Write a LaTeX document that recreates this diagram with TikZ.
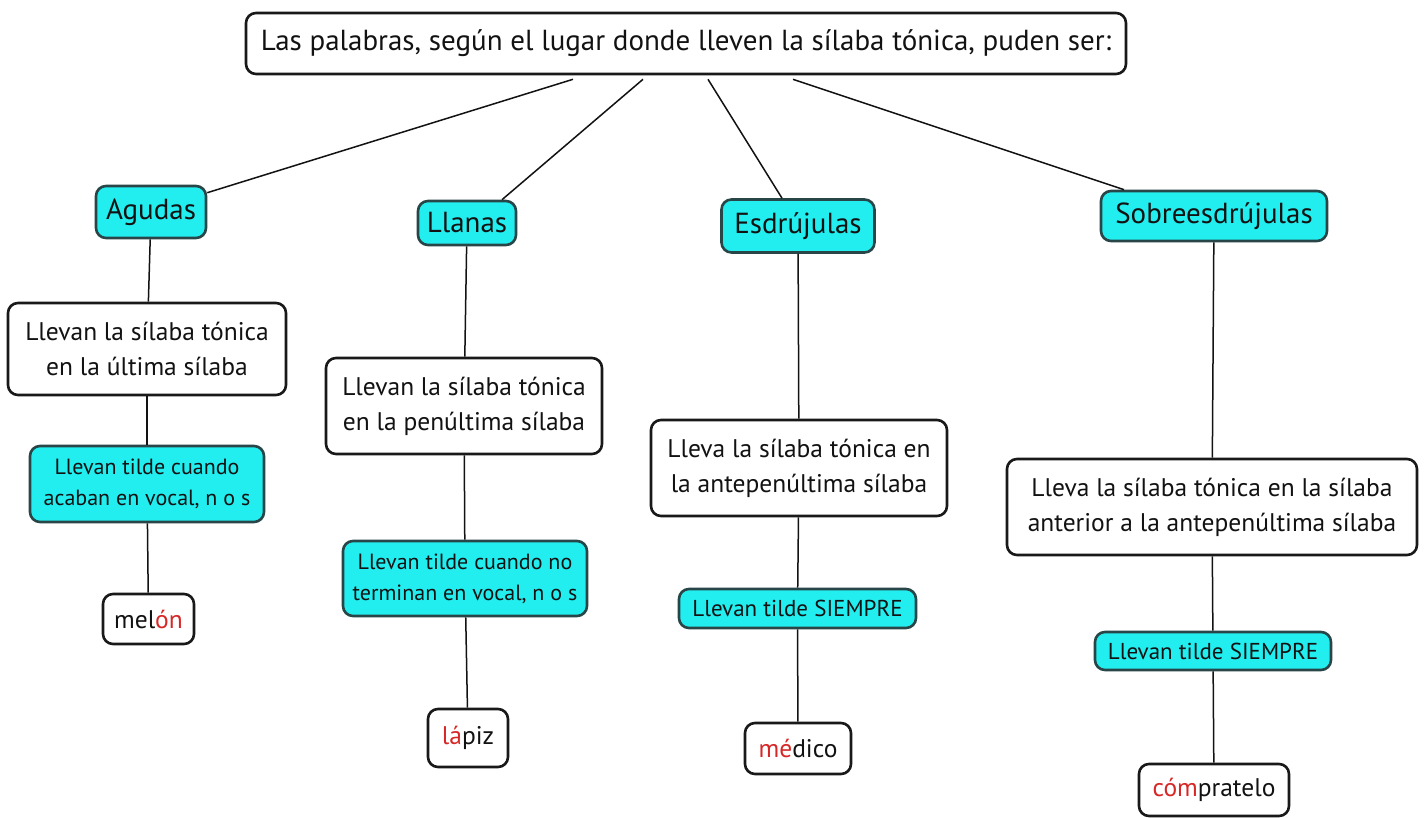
\documentclass[tikz,border=0pt]{standalone}
\usepackage{fontspec}
\setmainfont{PT Sans}
\usetikzlibrary{calc}
\definecolor{cyanfill}{RGB}{34,238,240}
\definecolor{cyanedge}{RGB}{40,70,72}
\definecolor{boxedge}{RGB}{25,25,25}
\definecolor{tonic}{RGB}{215,40,40}
\definecolor{ink}{RGB}{18,18,18}
\begin{document}
\begin{tikzpicture}[x=1pt,y=-1pt,
  base/.style={rounded corners=10pt, line width=2.6pt, align=center, inner sep=0pt, text=ink},
  whitebox/.style={base, draw=boxedge, fill=white},
  cyanbox/.style={base, draw=cyanedge, fill=cyanfill},
  titlefont/.style={font=\fontsize{29}{34}\selectfont},
  catfont/.style={font=\fontsize{29}{34}\selectfont},
  descfont/.style={font=\fontsize{25.5}{35}\selectfont},
  rulefont/.style={font=\fontsize{22}{31}\selectfont},
  capsfont/.style={font=\fontsize{23}{31}\selectfont},
  wordfont/.style={font=\fontsize{25.5}{30}\selectfont},
  conn/.style={line width=1.5pt, draw=ink}]
\fill[white] (0,0) rectangle (1427,818);
\useasboundingbox (0,0) rectangle (1427,818);

% title
\node[whitebox, titlefont, minimum width=880pt, minimum height=61pt] (top) at (686,43.5)
  {Las palabras, según el lugar donde lleven la sílaba tónica, puden ser:};

% categories
\node[cyanbox, catfont, minimum width=110pt, minimum height=52pt] (agudas) at (151,212) {Agudas};
\node[cyanbox, catfont, minimum width=98pt, minimum height=44pt] (llanas) at (467,223) {Llanas};
\node[cyanbox, catfont, minimum width=153pt, minimum height=53pt] (esdr) at (798,226) {Esdrújulas};
\node[cyanbox, catfont, minimum width=226pt, minimum height=50pt] (sobre) at (1214,216) {Sobreesdrújulas};

% descriptions
\node[whitebox, descfont, minimum width=278pt, minimum height=92pt] (b1) at (147,349)
  {Llevan la sílaba tónica\\en la última sílaba};
\node[whitebox, descfont, minimum width=276pt, minimum height=96pt] (b2) at (464,406)
  {Llevan la sílaba tónica\\en la penúltima sílaba};
\node[whitebox, descfont, minimum width=296pt, minimum height=96pt] (b3) at (799,468)
  {Lleva la sílaba tónica en\\la antepenúltima sílaba};
\node[whitebox, descfont, minimum width=410pt, minimum height=96pt] (b4) at (1212,507)
  {Lleva la sílaba tónica en la sílaba\\anterior a la antepenúltima sílaba};

% rules
\node[cyanbox, rulefont, minimum width=234pt, minimum height=76pt] (c1) at (147,484)
  {Llevan tilde cuando\\acaban en vocal, n o s};
\node[cyanbox, rulefont, minimum width=244pt, minimum height=75pt] (c2) at (465,578.5)
  {Llevan tilde cuando no\\terminan en vocal, n o s};
\node[cyanbox, capsfont, minimum width=237pt, minimum height=39pt] (c3) at (797.5,608.5)
  {Llevan tilde SIEMPRE};
\node[cyanbox, capsfont, minimum width=236pt, minimum height=38pt] (c4) at (1213,651)
  {Llevan tilde SIEMPRE};

% examples
\node[whitebox, wordfont, minimum width=91pt, minimum height=50pt] (melon) at (148.5,619)
  {mel\textcolor{tonic}{ón}};
\node[whitebox, wordfont, minimum width=80pt, minimum height=58pt] (lapiz) at (468,738)
  {\textcolor{tonic}{lá}piz};
\node[whitebox, wordfont, minimum width=106pt, minimum height=51pt] (medico) at (798,748.5)
  {\textcolor{tonic}{mé}dico};
\node[whitebox, wordfont, minimum width=150pt, minimum height=52pt] (comp) at (1214,790)
  {\textcolor{tonic}{cóm}pratelo};

% connectors from title
\draw[conn] ([xshift=-113pt,yshift=-4pt]top.south) -- ([yshift=-8pt]agudas.north east);
\draw[conn] ([xshift=-43pt,yshift=-4pt]top.south) -- ([xshift=35pt]llanas.north);
\draw[conn] ([xshift=22pt,yshift=-4pt]top.south) -- ([xshift=-16pt]esdr.north);
\draw[conn] ([xshift=107pt,yshift=-4pt]top.south) -- ([xshift=-90pt]sobre.north);

% vertical chains
\draw[conn] (agudas) -- (b1);
\draw[conn] (b1) -- (c1);
\draw[conn] (c1) -- (melon);
\draw[conn] (llanas) -- (b2);
\draw[conn] (b2) -- (c2);
\draw[conn] (c2) -- (lapiz);
\draw[conn] (esdr) -- (b3);
\draw[conn] (b3) -- (c3);
\draw[conn] (c3) -- (medico);
\draw[conn] (sobre) -- (b4);
\draw[conn] (b4) -- (c4);
\draw[conn] (c4) -- (comp);
\end{tikzpicture}
\end{document}
